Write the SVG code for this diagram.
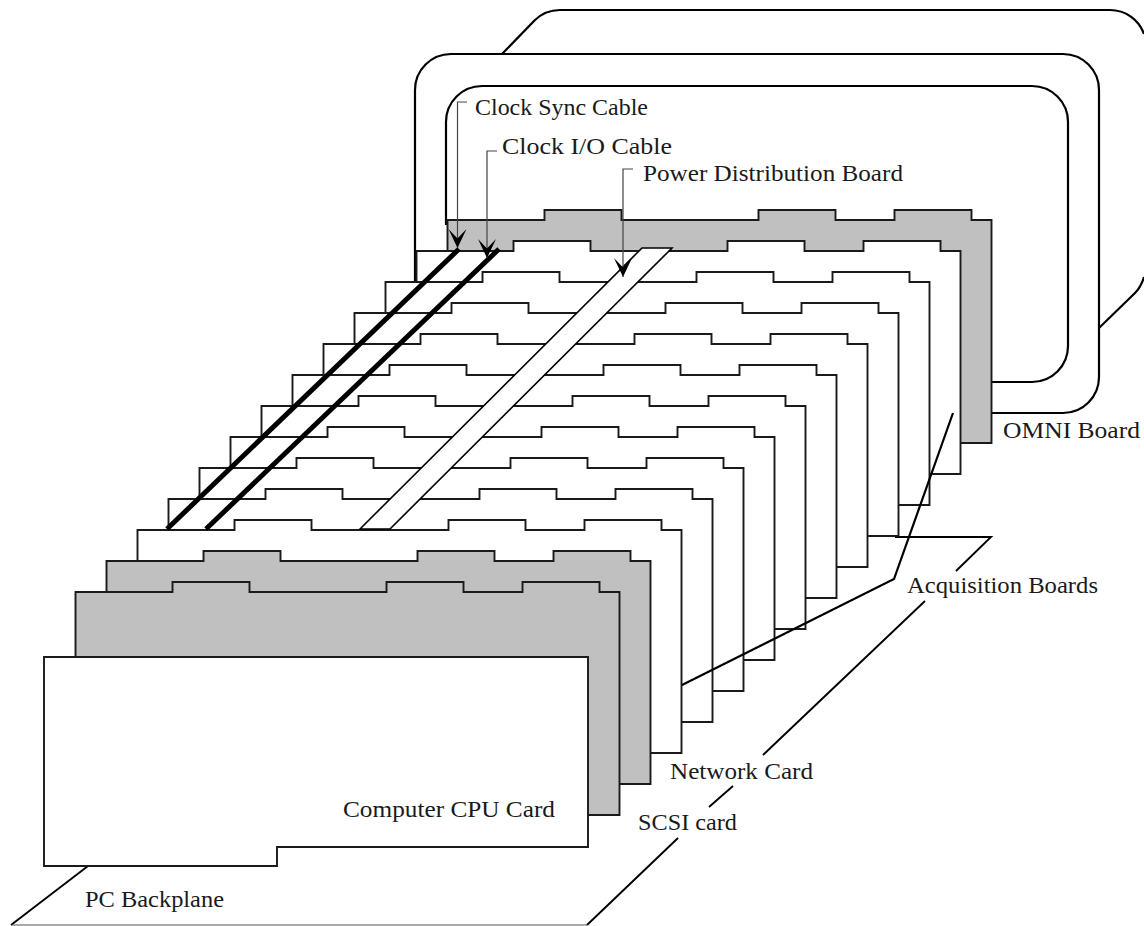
<svg xmlns="http://www.w3.org/2000/svg" width="1144" height="926" viewBox="0 0 1144 926">
<style>
.frame{fill:none;stroke:#000;stroke-width:2.2}
.white{fill:#fff;stroke:#1a1a1a;stroke-width:1.9}
.gray{fill:#c0c0c0;stroke:#1a1a1a;stroke-width:1.9}
.edge{fill:none;stroke:#000;stroke-width:1.9}
.thin{fill:none;stroke:#444;stroke-width:1.2}
.cable{fill:none;stroke:#000;stroke-width:5}
.call{fill:none;stroke:#000;stroke-width:2.2}
text{font-family:"Liberation Serif","Times New Roman",serif;font-size:23px;fill:#1a1a1a}
</style>
<defs>
<path id="card" d="M0,0H97V-10H174V0H311V-10H388V0H447V-10H524V0H544V223H0Z"/>
<marker id="head" markerUnits="userSpaceOnUse" markerWidth="22" markerHeight="22" viewBox="0 0 22 22" refX="20" refY="11" orient="auto">
<path d="M1,2 L20,11 L1,20 L10.5,11 Z" fill="#000"/>
</marker>
</defs>
<g id="enclosure-back">
<path class="frame" d="M502,54 L534.5,20.5 A36,36 0 0 1 560,10 H1110 A36,36 0 0 1 1144,34"/>
<path class="frame" d="M1099,328 L1135,293 Q1141,287 1144,277"/>
</g>
<g id="enclosure-outer"><path class="frame" d="M415,285 V90 A36,36 0 0 1 451,54 H1063 A36,36 0 0 1 1099,90 V377 A36,36 0 0 1 1063,413 H992"/></g>
<g id="enclosure-inner"><path class="frame" d="M446,225 V122 A36,36 0 0 1 482,86 H1032 A36,36 0 0 1 1068,122 V346 A36,36 0 0 1 1032,382 H992"/></g>
<g id="pc-backplane">
<path class="edge" d="M88,866 L11,925"/>
<path d="M11,925 H587" fill="none" stroke="#555" stroke-width="1"/>
<path class="edge" d="M587,925 L678,838 M709,807 L733,786 M763,755 L925,601 M956,571 L991,537 H895"/>
<text x="85" y="907" textLength="139" lengthAdjust="spacingAndGlyphs">PC Backplane</text>
</g>
<g id="omni-board"><use href="#card" class="gray" transform="translate(447.5,220)"/>
<text x="1003" y="438" textLength="137" lengthAdjust="spacingAndGlyphs">OMNI Board</text></g>
<g id="acq-9"><use href="#card" class="white" transform="translate(416.5,251)"/></g>
<g id="acq-8"><use href="#card" class="white" transform="translate(385.5,282)"/></g>
<g id="acq-7"><use href="#card" class="white" transform="translate(354.5,313)"/></g>
<g id="acq-6"><use href="#card" class="white" transform="translate(323.5,344)"/></g>
<g id="acq-5"><use href="#card" class="white" transform="translate(292.5,375)"/></g>
<g id="acq-4"><use href="#card" class="white" transform="translate(261.5,406)"/></g>
<g id="acq-3"><use href="#card" class="white" transform="translate(230.5,437)"/></g>
<g id="acq-2"><use href="#card" class="white" transform="translate(199.5,468)"/></g>
<g id="acq-1"><use href="#card" class="white" transform="translate(168.5,499)"/></g>
<g id="network-card"><use href="#card" class="white" transform="translate(137.5,530)"/>
<text x="670" y="779" textLength="143" lengthAdjust="spacingAndGlyphs">Network Card</text></g>
<g id="scsi-card"><use href="#card" class="gray" transform="translate(106.5,561)"/>
<text x="638" y="830" textLength="99" lengthAdjust="spacingAndGlyphs">SCSI card</text></g>
<g id="omni-front"><use href="#card" class="gray" transform="translate(75.5,592)"/></g>
<g id="cpu-card">
<path class="white" d="M44,657 H588 V847 H277 V866 H44 Z"/>
<text x="343" y="817" textLength="212" lengthAdjust="spacingAndGlyphs">Computer CPU Card</text>
</g>
<g id="power-board">
<path d="M360,529 L642,248 H672 L390,529 Z" fill="#fff" stroke="#000" stroke-width="1.6"/>
<text x="643" y="181" textLength="260" lengthAdjust="spacingAndGlyphs">Power Distribution Board</text>
</g>
<g id="clock-sync-cable"><path class="cable" d="M167,529 L459,249"/>
<text x="475" y="115" textLength="173" lengthAdjust="spacingAndGlyphs">Clock Sync Cable</text></g>
<g id="clock-io-cable"><path class="cable" d="M206,529 L499,249"/>
<text x="502" y="154" textLength="170" lengthAdjust="spacingAndGlyphs">Clock I/O Cable</text></g>
<g id="acquisition-boards"><text x="907" y="593" textLength="191" lengthAdjust="spacingAndGlyphs">Acquisition Boards</text></g>
<g id="connectors">
<path class="thin" d="M467,102 H457.5 V248" marker-end="url(#head)"/>
<path class="thin" d="M497,151 H487 V258" marker-end="url(#head)"/>
<path class="thin" d="M633,169 H623 V277" marker-end="url(#head)"/>
<path class="call" d="M682,685 L894,579 L953,413"/>
</g>
</svg>
